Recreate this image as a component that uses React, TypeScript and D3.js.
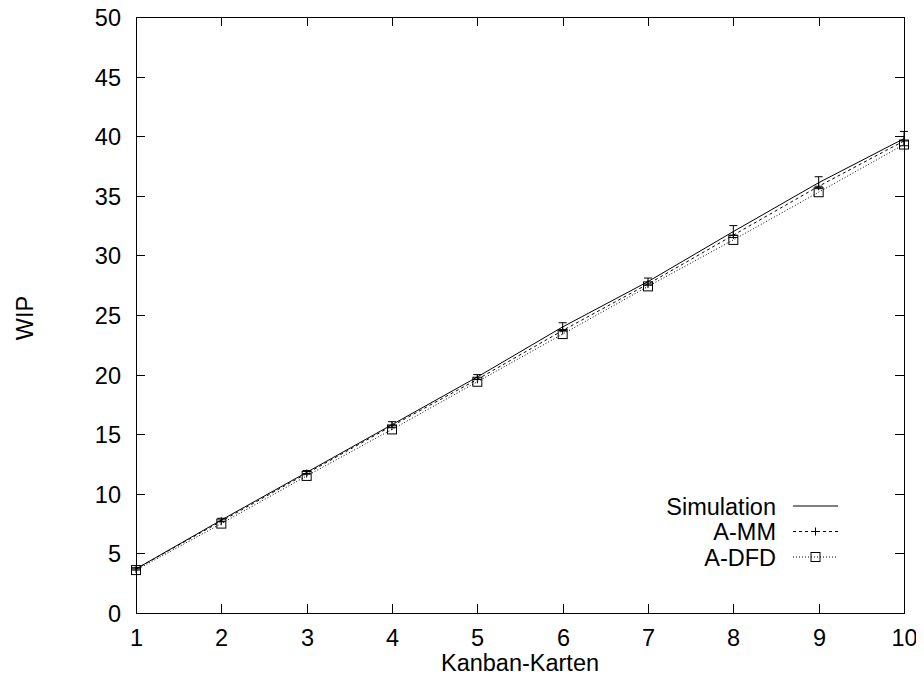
import React, { useEffect, useRef } from "react";
import * as d3 from "d3";

const karten = [1, 2, 3, 4, 5, 6, 7, 8, 9, 10];
const simulation = [3.7, 7.8, 11.8, 15.8, 19.8, 24.0, 27.8, 32.0, 36.1, 39.8];
const simErr = [0.1, 0.15, 0.15, 0.25, 0.2, 0.35, 0.3, 0.5, 0.5, 0.6];
const aMM = [3.7, 7.7, 11.7, 15.7, 19.6, 23.7, 27.6, 31.7, 35.8, 39.6];
const aDFD = [3.6, 7.5, 11.5, 15.4, 19.4, 23.4, 27.4, 31.3, 35.3, 39.3];
const yTicks = [0, 5, 10, 15, 20, 25, 30, 35, 40, 45, 50];

const App = () => {
  const ref = useRef<SVGSVGElement>(null);

  useEffect(() => {
    const svg = d3.select(ref.current);
    svg.selectAll("*").remove();

    const left = 136, right = 904, top = 17, bottom = 613;
    const x = d3.scaleLinear().domain([1, 10]).range([left, right]);
    const y = d3.scaleLinear().domain([0, 50]).range([bottom, top]);
    const font = "'Liberation Sans', Arial, Helvetica, sans-serif";
    const tick = 9;

    const g = svg.append("g").attr("font-family", font).attr("font-size", 23.5);

    // ticks (inside, mirrored)
    yTicks.forEach((t) => {
      const yy = Math.round(y(t)) + 0.5;
      if (t > 0 && t < 50) {
        g.append("line").attr("x1", left).attr("x2", left + tick).attr("y1", yy).attr("y2", yy).attr("stroke", "#000");
        g.append("line").attr("x1", right - tick).attr("x2", right).attr("y1", yy).attr("y2", yy).attr("stroke", "#000");
      }
      g.append("text").attr("x", 121).attr("y", yy + 8.5).attr("text-anchor", "end").text(t);
    });
    karten.forEach((k) => {
      const xx = Math.round(x(k)) + 0.5;
      if (k > 1 && k < 10) {
        g.append("line").attr("x1", xx).attr("x2", xx).attr("y1", bottom).attr("y2", bottom - tick).attr("stroke", "#000");
        g.append("line").attr("x1", xx).attr("x2", xx).attr("y1", top).attr("y2", top + tick).attr("stroke", "#000");
      }
      g.append("text").attr("x", xx).attr("y", bottom + 33).attr("text-anchor", "middle").text(k);
    });

    g.append("rect")
      .attr("x", left + 0.5).attr("y", top + 0.5)
      .attr("width", right - left).attr("height", bottom - top)
      .attr("fill", "none").attr("stroke", "#000");

    g.append("text").attr("x", 520).attr("y", 671).attr("text-anchor", "middle").text("Kanban-Karten");
    g.append("text")
      .attr("transform", `translate(33,318) rotate(-90)`)
      .attr("text-anchor", "middle").text("WIP");

    const line = d3.line<number>().x((_, i) => x(karten[i])).y((d) => y(d));

    // series
    g.append("path").datum(aDFD).attr("d", line).attr("fill", "none")
      .attr("stroke", "#000").attr("stroke-width", 1).attr("stroke-dasharray", "1,2");
    g.append("path").datum(aMM).attr("d", line).attr("fill", "none")
      .attr("stroke", "#000").attr("stroke-width", 1).attr("stroke-dasharray", "3,3");
    g.append("path").datum(simulation).attr("d", line).attr("fill", "none")
      .attr("stroke", "#000").attr("stroke-width", 1);

    // error bars
    simulation.forEach((v, i) => {
      const xx = x(karten[i]);
      const y1 = y(v - simErr[i]), y2 = y(v + simErr[i]);
      g.append("line").attr("x1", xx).attr("x2", xx).attr("y1", y1).attr("y2", y2).attr("stroke", "#000");
      [y1, y2].forEach((yy) =>
        g.append("line").attr("x1", xx - 4).attr("x2", xx + 4).attr("y1", yy).attr("y2", yy).attr("stroke", "#000"));
    });

    const plus = (xx: number, yy: number) => {
      g.append("line").attr("x1", xx - 4).attr("x2", xx + 4).attr("y1", yy).attr("y2", yy).attr("stroke", "#000");
      g.append("line").attr("x1", xx).attr("x2", xx).attr("y1", yy - 4).attr("y2", yy + 4).attr("stroke", "#000");
    };
    const square = (xx: number, yy: number) => {
      g.append("rect").attr("x", xx - 4.5).attr("y", yy - 4.5).attr("width", 9).attr("height", 9)
        .attr("fill", "none").attr("stroke", "#000");
    };
    aMM.forEach((v, i) => plus(x(karten[i]), y(v)));
    aDFD.forEach((v, i) => square(x(karten[i]), y(v)));

    // legend
    const legend = [
      { name: "Simulation", dash: null, mark: null },
      { name: "A-MM", dash: "3,3", mark: plus },
      { name: "A-DFD", dash: "1,2", mark: square },
    ];
    legend.forEach((l, i) => {
      const yy = 506 + i * 25.5;
      g.append("text").attr("x", 776).attr("y", yy + 8.5).attr("text-anchor", "end").text(l.name);
      const ln = g.append("line").attr("x1", 793).attr("x2", 838).attr("y1", yy).attr("y2", yy).attr("stroke", "#000");
      if (l.dash) ln.attr("stroke-dasharray", l.dash);
      if (l.mark) l.mark(815.5, yy);
    });
  }, []);

  return <svg ref={ref} width={924} height={681} style={{ display: "block", margin: "-8px 0 0 -8px" }} />;
};

export default App;
